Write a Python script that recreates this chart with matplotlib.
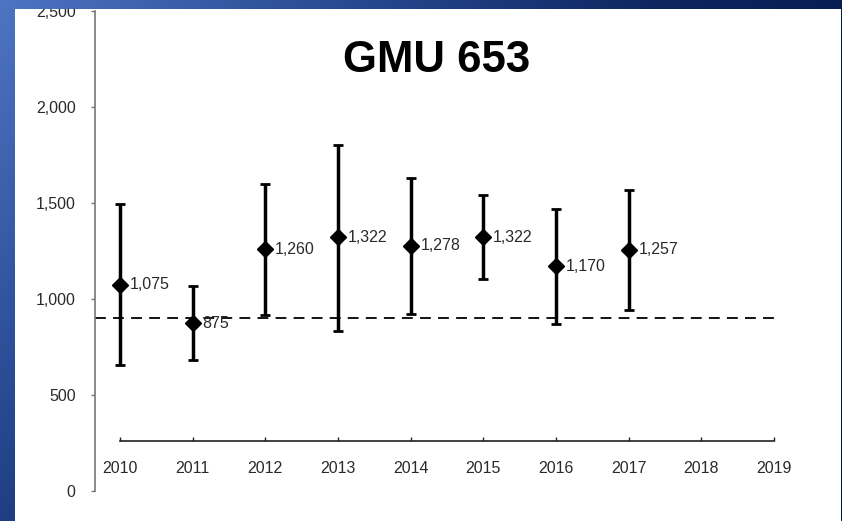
import numpy as np
import matplotlib.pyplot as plt
from matplotlib.patches import Rectangle
from matplotlib.colors import LinearSegmentedColormap

plt.rcParams["font.family"] = ["Liberation Sans", "DejaVu Sans"]

# ---------------------------
# DATA
# ---------------------------
years = [2010, 2011, 2012, 2013, 2014, 2015, 2016, 2017]
estimates = [1075, 875, 1260, 1322, 1278, 1322, 1170, 1257]
lower = [656, 682, 918, 835, 923, 1104, 868, 944]
upper = [1493, 1068, 1599, 1802, 1628, 1540, 1470, 1566]
labels = ["1,075", "875", "1,260", "1,322", "1,278", "1,322", "1,170", "1,257"]
tick_years = list(range(2010, 2020))
objective = 900

W, H = 842, 521
fig = plt.figure(figsize=(W / 100, H / 100), dpi=100)

# ---------------------------
# BLUE GRADIENT BACKGROUND
# ---------------------------
cmap = LinearSegmentedColormap.from_list("slide", ["#4d74c2", "#2a4c95", "#0d2660", "#001848"])
gx, gy = np.meshgrid(np.linspace(0, 1, 200), np.linspace(0, 1, 130))
grad = np.clip(gx * 0.85 + gy * 0.45, 0, 1)

bg = fig.add_axes([0, 0, 1, 1], zorder=-2)
bg.imshow(grad, cmap=cmap, aspect="auto", extent=[0, 1, 0, 1], origin="upper")
bg.axis("off")
bg.add_patch(Rectangle((15 / W, 0), (841 - 15) / W, (H - 9) / H,
                       facecolor="white", edgecolor="none"))

# ---------------------------
# MAIN CHART
# ---------------------------
ax = fig.add_axes([95 / W, 30 / H, (800 - 95) / W, 480 / H])
ax.patch.set_alpha(0)
ax.set_xlim(2009.656, 2019.36)
ax.set_ylim(0, 2500)

yerr = [np.array(estimates) - np.array(lower), np.array(upper) - np.array(estimates)]
ax.errorbar(years, estimates, yerr=yerr, fmt="D", color="black",
            markersize=8, elinewidth=2.5, capsize=3.5, capthick=2, zorder=3)
ax.hlines(objective, 2009.656, 2019, colors="black", linestyles=(0, (6, 4)),
          linewidth=1.3, zorder=2)

for x, y, lab in zip(years, estimates, labels):
    ax.annotate(lab, (x, y), xytext=(7, 0), textcoords="offset points",
                ha="left", va="center", fontsize=11.5, color="#2a2a2a")

for s in ["top", "right"]:
    ax.spines[s].set_visible(False)
ax.spines["left"].set_color("#777777")
ax.spines["left"].set_linewidth(1.2)
ax.spines["left"].set_bounds(0, 2500)
ax.spines["bottom"].set_position(("data", 260))
ax.spines["bottom"].set_bounds(2010, 2019)
ax.spines["bottom"].set_color("#222222")
ax.spines["bottom"].set_linewidth(1.2)

ax.set_yticks(range(0, 2501, 500))
ax.set_yticklabels([f"{v:,}" for v in range(0, 2501, 500)])
ax.set_xticks(tick_years)
ax.set_xticklabels([str(y) for y in tick_years])
ax.tick_params(axis="y", direction="out", length=3, width=1, color="#777777",
               pad=11, labelsize=11.5, labelcolor="#2a2a2a")
ax.tick_params(axis="x", direction="in", length=3, width=1, color="#222222",
               pad=14, labelsize=11.5, labelcolor="#2a2a2a")

fig.text(437 / W, 1 - 60 / H, "GMU 653", ha="center", va="center",
         fontsize=31.5, fontweight="bold", color="black")

# top band of the slide drawn over the chart
top = fig.add_axes([0, (H - 9) / H, 1, 9 / H], zorder=5)
top.imshow(grad[:3], cmap=cmap, aspect="auto", extent=[0, 1, 0, 1], origin="upper",
           vmin=0, vmax=1)
top.axis("off")

plt.savefig("out.png", dpi=100)
plt.close()
